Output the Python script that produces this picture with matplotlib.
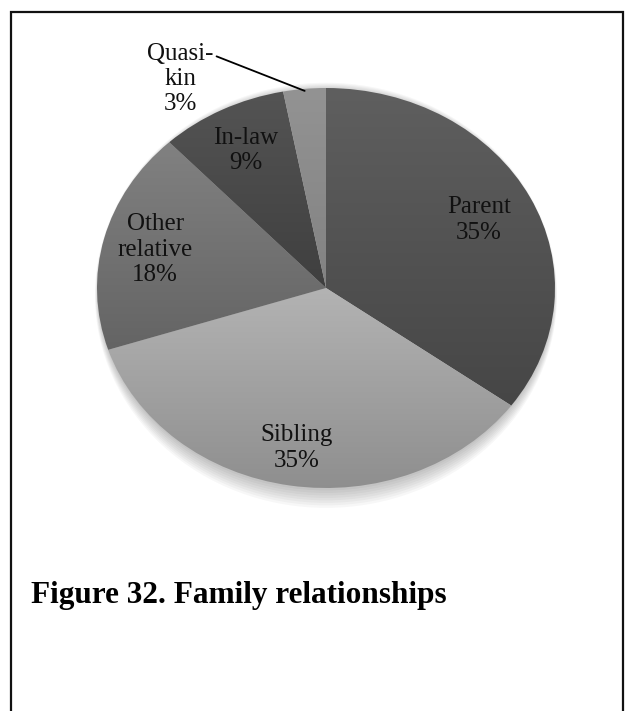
import numpy as np
import matplotlib
matplotlib.use("Agg")
import matplotlib.pyplot as plt
from matplotlib.patches import Rectangle, Ellipse

# ---- data ----
categories = ["Parent", "Sibling", "Other\nrelative", "In-law", "Quasi-\nkin"]
percents = [35, 35, 18, 9, 3]
title = "Figure 32. Family relationships"

# ---- style ----
top_colors = ["#5f5f5f", "#b3b3b3", "#818181", "#545454", "#939393"]
bottom_colors = ["#464646", "#8e8e8e", "#646464", "#3f3f3f", "#828282"]
label_dist = [0.75, 0.81, 0.77, 0.77, None]

W, H = 625, 711
fig = plt.figure(figsize=(W / 100, H / 100), dpi=100)
fig.patch.set_facecolor("white")

# frame
fig.add_artist(Rectangle((11 / W, -0.05), (623 - 11) / W, 1.05 - 12 / H,
                         transform=fig.transFigure, fill=False,
                         edgecolor="#111111", linewidth=1.6))

ax = fig.add_axes([97 / W, 1 - 488 / H, 458 / W, 400 / H])

# soft shadow
for i in range(8):
    e = Ellipse((0.0, -0.012 - i * 0.0035), 1.99 + 0.004 * i, 2.0 + 0.018 * i,
                facecolor="black", edgecolor="none", alpha=0.03, zorder=0)
    e.set_clip_on(False)
    ax.add_patch(e)

wedges, _ = ax.pie(percents, startangle=90, counterclock=False, radius=1.0,
                   wedgeprops=dict(linewidth=0, edgecolor="none"))
ax.set_aspect("auto")
ax.axis("off")


def hex2rgb(h):
    h = h.lstrip("#")
    return np.array([int(h[i:i + 2], 16) / 255 for i in (0, 2, 4)])


for w, tc, bc in zip(wedges, top_colors, bottom_colors):
    verts = w.get_patch_transform().transform(w.get_path().vertices)
    y0, y1 = verts[:, 1].min(), verts[:, 1].max()
    x0, x1 = verts[:, 0].min(), verts[:, 0].max()
    t = np.linspace(0, 1, 256)[:, None]
    img = (1 - t) * hex2rgb(tc) + t * hex2rgb(bc)
    img = np.repeat(img[:, None, :], 2, axis=1)
    w.set_facecolor("none")
    im = ax.imshow(img, extent=(x0, x1, y0, y1), origin="upper",
                   aspect="auto", interpolation="bilinear", zorder=1)
    im.set_clip_path(w)

ax.set_xlim(-1, 1)
ax.set_ylim(-1, 1)

font = "Liberation Serif"
fs = 18
for i, (w, cat, p) in enumerate(zip(wedges, categories, percents)):
    ang = np.deg2rad((w.theta1 + w.theta2) / 2)
    txt = f"{cat}\n{p}%"
    if label_dist[i] is not None:
        r = label_dist[i]
        ax.text(r * np.cos(ang), r * np.sin(ang), txt, ha="center", va="center",
                fontsize=fs, family=font, color="#111111", linespacing=1.2, zorder=3)
    else:
        xe, ye = np.cos(ang), np.sin(ang)
        ax.annotate(txt, xy=(xe * 0.99, ye * 0.99), xytext=(-0.635, 1.045),
                    ha="center", va="center", fontsize=fs, family=font,
                    color="#111111", linespacing=1.2, zorder=3,
                    annotation_clip=False,
                    arrowprops=dict(arrowstyle="-", color="black", lw=1.3,
                                    shrinkA=0, shrinkB=0,
                                    connectionstyle="angle,angleA=0,angleB=158.6,rad=0",
                                    relpos=(1.0, 0.86)))

fig.text(31 / W, 1 - 603 / H, title, ha="left", va="baseline",
         fontsize=22.5, family=font, fontweight="bold", color="black")

fig.savefig("out.png", dpi=100)
